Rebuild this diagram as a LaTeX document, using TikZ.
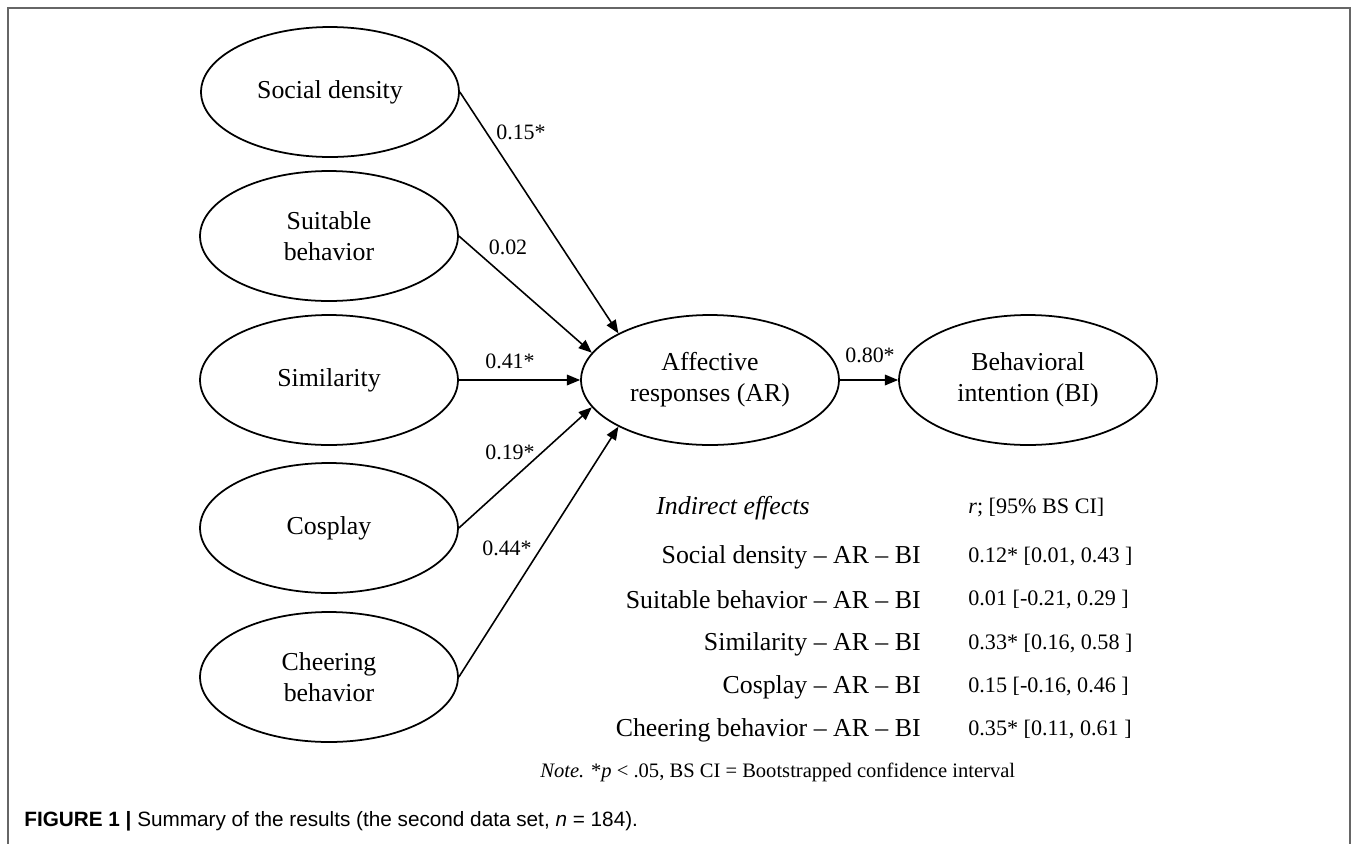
\documentclass[tikz,border=0pt]{standalone}
\usepackage{fontspec}
\setmainfont{Liberation Serif}
\newfontfamily\capfont{Liberation Sans}
\usetikzlibrary{arrows.meta, shapes.geometric}
\usetikzlibrary{positioning}

\tikzset{
  construct/.style={draw, ellipse, line width=1pt, inner sep=0pt,
    minimum width=5.16cm, minimum height=2.6cm, align=center,
    font=\fontsize{14.7}{17.5}\selectfont},
  effect/.style={-{Triangle[length=7.5pt,width=6pt]}, line width=0.9pt},
  coef/.style={font=\fontsize{12.5}{14}\selectfont},
  rowname/.style={anchor=east, inner sep=0pt, font=\fontsize{14.7}{17}\selectfont},
  rowval/.style={anchor=west, inner sep=0pt, font=\fontsize{12.6}{14}\selectfont}
}

\begin{document}
\begin{tikzpicture}[x=0.02cm, y=-0.02cm]
			\useasboundingbox (0,0) rectangle (1357,843);
			\draw[black!60, line width=0.85pt] (8,850) -- (8,8) -- (1350,8) -- (1350,850);
			% Praediktoren
			\node[construct] (sd) at (330,92) {Social density};
			\node[construct] (sb) at (329,236) {Suitable\\behavior};
			\node[construct] (si) at (329,380) {Similarity};
			\node[construct] (co) at (329,528) {Cosplay};
			\node[construct] (cb) at (329,677) {Cheering\\behavior};
			% Mediator und Ergebnis
			\node[construct] (ar) at (710,380) {Affective\\responses (AR)};
			\node[construct] (bi) at (1028,380) {Behavioral\\intention (BI)};
			% Pfade
			\draw[effect] (sd.east) -- (ar.153);
			\draw[effect] (sb.east) -- (ar.167);
			\draw[effect] (si.east) -- (ar.west);
			\draw[effect] (co.east) -- (ar.193);
			\draw[effect] (cb.east) -- (ar.207);
			\draw[effect] (ar.east) -- (bi.west);
			% Koeffizienten
			\node[coef] (k1) at (521,132) {0.15*};
			\node[coef] (k2) at (508,247) {0.02};
			\node[coef] (k3) at (510,361) {0.41*};
			\node[coef] (k4) at (510,452) {0.19*};
			\node[coef] (k5) at (507,548) {0.44*};
			\node[coef] (k6) at (870,355) {0.80*};
			% indirekte Effekte
			\node[anchor=west, inner sep=0pt, font=\fontsize{14.7}{17}\selectfont\itshape] (ie) at (656,508) {Indirect effects};
			\node[rowval] (ci) at (968,508) {\textit{r}; [95\% BS CI]};
			\node[rowname] (n1) at (921,557) {Social density -- AR -- BI};
			\node[rowval] (v1) at (968,557) {0.12* [0.01, 0.43 ]};
			\node[rowname] (n2) at (921,600) {Suitable behavior -- AR -- BI};
			\node[rowval] (v2) at (968,600) {0.01 [-0.21, 0.29 ]};
			\node[rowname] (n3) at (921,644) {Similarity -- AR -- BI};
			\node[rowval] (v3) at (968,644) {0.33* [0.16, 0.58 ]};
			\node[rowname] (n4) at (921,687) {Cosplay -- AR -- BI};
			\node[rowval] (v4) at (968,687) {0.15 [-0.16, 0.46 ]};
			\node[rowname] (n5) at (921,730) {Cheering behavior -- AR -- BI};
			\node[rowval] (v5) at (968,730) {0.35* [0.11, 0.61 ]};
			\node[rowval, font=\fontsize{11.7}{14}\selectfont] (note) at (540,772) {\textit{Note.} *\textit{p} < .05, BS CI = Bootstrapped confidence interval};
			% Bildunterschrift
			\node[anchor=west, inner sep=0pt, font=\capfont\fontsize{11.8}{14}\selectfont] (cap) at (24,821)
				{\textbf{FIGURE 1 |} Summary of the results (the second data set, \textit{n} = 184).};
		\end{tikzpicture}
\end{document}
